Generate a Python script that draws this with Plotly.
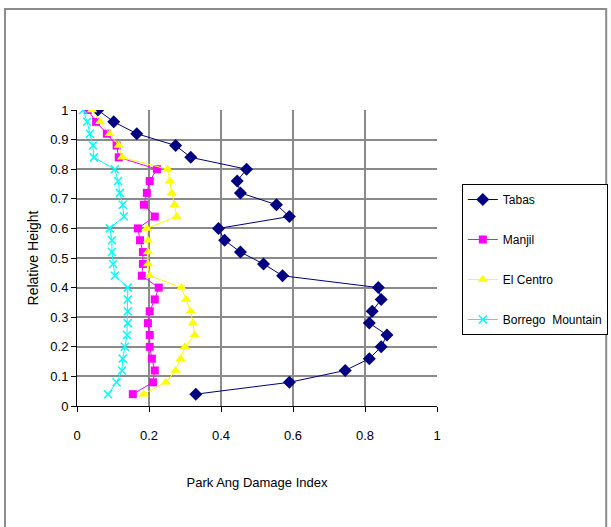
import plotly.graph_objects as go

# Relative storey heights (25 levels)
heights = [1.00, 0.96, 0.92, 0.88, 0.84, 0.80, 0.76, 0.72, 0.68, 0.64, 0.60, 0.56, 0.52,
           0.48, 0.44, 0.40, 0.36, 0.32, 0.28, 0.24, 0.20, 0.16, 0.12, 0.08, 0.04]

# Park-Ang damage index per level for each record
tabas = [0.058, 0.102, 0.166, 0.274, 0.316, 0.471, 0.445, 0.454, 0.554, 0.590, 0.393, 0.410, 0.454,
         0.518, 0.571, 0.837, 0.845, 0.820, 0.812, 0.861, 0.845, 0.812, 0.745, 0.590, 0.330]
manjil = [0.030, 0.053, 0.083, 0.110, 0.116, 0.222, 0.202, 0.194, 0.186, 0.216, 0.169, 0.175, 0.183,
          0.183, 0.180, 0.227, 0.216, 0.202, 0.197, 0.202, 0.202, 0.208, 0.216, 0.211, 0.155]
el_centro = [0.042, 0.064, 0.091, 0.116, 0.125, 0.252, 0.258, 0.263, 0.271, 0.277, 0.194, 0.197, 0.197,
             0.197, 0.202, 0.290, 0.303, 0.316, 0.322, 0.327, 0.300, 0.288, 0.274, 0.247, 0.185]
borrego = [0.017, 0.028, 0.036, 0.044, 0.047, 0.105, 0.114, 0.119, 0.127, 0.130, 0.091, 0.097, 0.097,
           0.100, 0.105, 0.141, 0.141, 0.141, 0.141, 0.139, 0.133, 0.127, 0.125, 0.110, 0.086]

series_names = ["Tabas", "Manjil", "El Centro", "Borrego  Mountain"]

x_tickvals = [0, 0.2, 0.4, 0.6, 0.8, 1.0]
x_ticktext = ["0", "0.2", "0.4", "0.6", "0.8", "1"]
y_tickvals = [0, 0.1, 0.2, 0.3, 0.4, 0.5, 0.6, 0.7, 0.8, 0.9, 1.0]
y_ticktext = ["0", "0.1", "0.2", "0.3", "0.4", "0.5", "0.6", "0.7", "0.8", "0.9", "1"]

FONT = "Liberation Sans Narrow, Arial Narrow, Liberation Sans, Arial, sans-serif"

styles = [
    dict(color="#000080", symbol="diamond", size=10, lw=1),
    dict(color="#FF00FF", symbol="square", size=8, lw=1),
    dict(color="#FFFF00", symbol="triangle-up", size=9, lw=1),
    dict(color="#00FFFF", symbol="x-thin", size=8, lw=1),
]

fig = go.Figure()
for name, vals, st in zip(series_names, [tabas, manjil, el_centro, borrego], styles):
    marker = dict(color=st["color"], symbol=st["symbol"], size=st["size"])
    if st["symbol"] == "x-thin":
        marker["line"] = dict(color=st["color"], width=1.5)
    fig.add_trace(go.Scatter(
        x=vals, y=heights, name=name, legendgroup=name,
        mode="lines+markers",
        line=dict(color=st["color"], width=st["lw"]),
        marker=marker,
    ))

# outer chart frame
fig.add_shape(type="rect", xref="paper", yref="paper",
              x0=-0.2, x1=1.47, y0=-0.45, y1=1.341,
              line=dict(color="#8c8c8c", width=2), layer="below")

fig.update_layout(
    width=611, height=527,
    margin=dict(l=77, r=174, t=110, b=121, autoexpand=False),
    paper_bgcolor="white", plot_bgcolor="white",
    font=dict(family=FONT, size=13, color="#000000"),
    showlegend=True,
    legend=dict(
        x=1.069, y=0.75, xanchor="left", yanchor="top",
        bordercolor="#000000", borderwidth=1, bgcolor="white",
        font=dict(family=FONT, size=12),
        traceorder="grouped", tracegroupgap=21,
        itemwidth=30,
    ),
    xaxis=dict(
        range=[0, 1], tickvals=x_tickvals, ticktext=x_ticktext,
        showgrid=True, gridcolor="#8a8a8a", gridwidth=1.5,
        showline=True, linecolor="#000000", linewidth=1,
        ticks="outside", ticklen=5, tickcolor="#000000",
        zeroline=False, ticklabelstandoff=12,
        title=dict(text="Park Ang Damage Index", font=dict(size=13), standoff=36),
    ),
    yaxis=dict(
        range=[0, 1], tickvals=y_tickvals, ticktext=y_ticktext,
        showgrid=True, gridcolor="#8a8a8a", gridwidth=1.5,
        showline=True, linecolor="#000000", linewidth=1,
        ticks="outside", ticklen=5, tickcolor="#000000",
        zeroline=False,
        title=dict(text="Relative Height", font=dict(size=14), standoff=8),
    ),
)

fig.write_html("out.html")
